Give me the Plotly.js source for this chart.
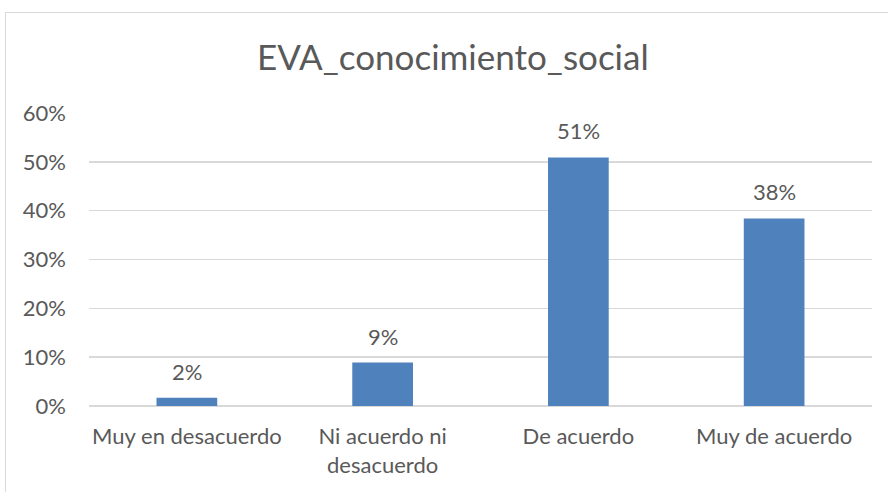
<!DOCTYPE html>
<html>
<head>
<meta charset="utf-8">
<script src="https://cdn.plot.ly/plotly-3.0.1.min.js"></script>
<style>
  html, body { margin: 0; padding: 0; background: #fff; }
  #wrap { position: relative; width: 888px; height: 492px; overflow: hidden; }
  #frame { position: absolute; left: 5px; top: 12px; width: 1000px; height: 1000px; border: 1px solid #d9d9d9; box-sizing: border-box; pointer-events: none; z-index: 5; }
  #chart { position: absolute; left: 0; top: 0; width: 888px; height: 492px; }
</style>
</head>
<body>
<div id="wrap">
  <div id="chart"></div>
  <div id="frame"></div>
</div>
<script>
const chartTitle = "EVA_conocimiento_social";
const categories = ["Muy en desacuerdo", "Ni acuerdo ni<br>desacuerdo", "De acuerdo", "Muy de acuerdo"];
const values = [0.017, 0.089, 0.509, 0.384];
const yTickValues = [0, 0.1, 0.2, 0.3, 0.4, 0.5, 0.6];

const FONT = "Lato, 'Noto Sans', sans-serif";
const TXT = "#595959";

const trace = {
  type: "bar",
  x: categories,
  y: values,
  marker: { color: "#4F81BD", line: { width: 0 } },
  hoverinfo: "none"
};

const annotations = values.map((v, i) => ({
  x: categories[i],
  y: v,
  xref: "x",
  yref: "y",
  text: Math.round(v * 100) + "%",
  showarrow: false,
  yanchor: "bottom",
  yshift: 11,
  font: { family: FONT, size: 22, color: TXT }
}));

const layout = {
  width: 888,
  height: 492,
  margin: { l: 89, r: 16, t: 113, b: 86 },
  paper_bgcolor: "rgba(0,0,0,0)",
  plot_bgcolor: "rgba(0,0,0,0)",
  showlegend: false,
  bargap: 0.69,
  title: {
    text: chartTitle,
    x: 0.51,
    xref: "container",
    xanchor: "center",
    y: 1 - 58 / 492,
    yref: "container",
    yanchor: "middle",
    font: { family: FONT, size: 35, color: TXT }
  },
  xaxis: {
    type: "category",
    showgrid: false,
    showline: false,
    zeroline: false,
    ticks: "",
    ticklabelstandoff: 15,
    tickfont: { family: FONT, size: 22, color: TXT },
    fixedrange: true
  },
  yaxis: {
    range: [0, 0.6],
    tickvals: yTickValues,
    tickformat: ".0%",
    showgrid: true,
    gridcolor: "#d9d9d9",
    gridwidth: 1.5,
    zeroline: true,
    zerolinecolor: "#d9d9d9",
    zerolinewidth: 1.5,
    showline: false,
    ticks: "",
    ticklabelstandoff: 22,
    tickfont: { family: FONT, size: 22, color: TXT },
    fixedrange: true
  },
  annotations: annotations
};

Plotly.newPlot("chart", [trace], layout, { displayModeBar: false, staticPlot: true });
</script>
</body>
</html>
